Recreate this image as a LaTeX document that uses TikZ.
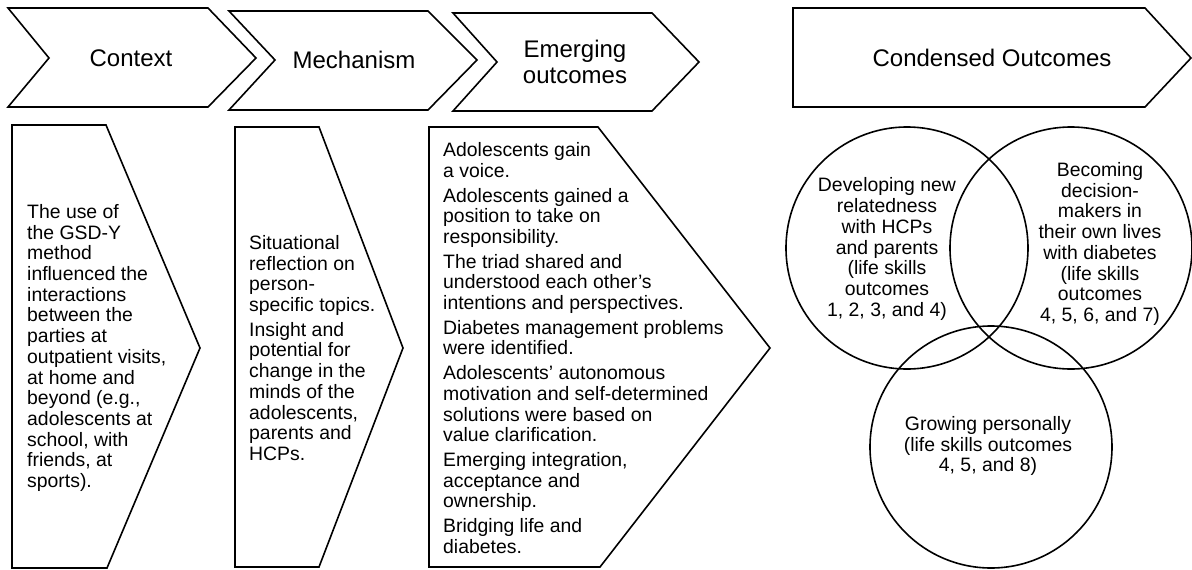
\documentclass[tikz,border=0pt]{standalone}
\usepackage{fontspec}
\setmainfont{Liberation Sans}
\begin{document}
\begin{tikzpicture}[x=1pt,y=-1pt,
  outline/.style={line width=1.6pt},
  head/.style={font=\fontsize{24}{26}\selectfont, align=center, inner sep=0},
  body/.style={font=\fontsize{19.4}{20.7}\selectfont, align=left, anchor=west, inner sep=0},
  venn/.style={font=\fontsize{19.4}{20.7}\selectfont, align=center, inner sep=0}]
\useasboundingbox (0,0) rectangle (1192,570);
% header chevrons
\draw [outline] (8,8) -- (208,8) -- (256,58) -- (208,107) -- (8,107) -- (49,58) -- cycle;
\draw [outline] (229,11) -- (428,11) -- (477,60) -- (428,110) -- (229,110) -- (275,60) -- cycle;
\draw [outline] (453,13) -- (652,13) -- (699,62) -- (652,111) -- (453,111) -- (497,62) -- cycle;
\draw [outline] (793,8) -- (1145,8) -- (1191,58) -- (1145,107) -- (793,107) -- cycle;
\node [head] (context) at (131,58) {Context};
\node [head] (mechanism) at (354,60) {Mechanism};
\node [head] (emerging) at (575,62) {Emerging\\outcomes};
\node [head] (condensed) at (992,58) {Condensed Outcomes};
% body boxes
\draw [outline] (12,125) -- (106,125) -- (200,348) -- (107,568) -- (12,568) -- cycle;
\draw [outline] (235,127) -- (319,127) -- (403,348) -- (319,567) -- (235,567) -- cycle;
\draw [outline] (429,127) -- (598,127) -- (770,348) -- (600,567) -- (429,567) -- cycle;
\node [body] (ctxtext) at (27,348) {The use of\\the GSD-Y\\method\\influenced the\\interactions\\between the\\parties at\\outpatient visits,\\at home and\\beyond (e.g.,\\adolescents at\\school, with\\friends, at\\sports).};
\node [body] (mechtext) at (249,348) {Situational\\reflection on\\person-\\specific topics.\\[4pt]Insight and\\potential for\\change in the\\minds of the\\adolescents,\\parents and\\HCPs.};
\node [body] (emtext) at (443,348) {Adolescents gain\\a voice.\\[4pt]Adolescents gained a\\position to take on\\responsibility.\\[4pt]The triad shared and\\understood each other’s\\intentions and perspectives.\\[4pt]Diabetes management problems\\were identified.\\[4pt]Adolescents’ autonomous\\motivation and self-determined\\solutions were based on\\value clarification.\\[4pt]Emerging integration,\\acceptance and\\ownership.\\[4pt]Bridging life and\\diabetes.};
% condensed outcomes
\draw [outline] (907,248) circle (121pt);
\draw [outline] (1071,248) circle (121pt);
\draw [outline] (991,447) circle (121pt);
\node [venn] (relate) at (887,249) {Developing new\\relatedness\\with HCPs\\and parents\\(life skills\\outcomes\\1, 2, 3, and 4)};
\node [venn] (decide) at (1100,244) {Becoming\\decision-\\makers in\\their own lives\\with diabetes\\(life skills\\outcomes\\4, 5, 6, and 7)};
\node [venn] (grow) at (988,446) {Growing personally\\(life skills outcomes\\4, 5, and 8)};
\end{tikzpicture}
\end{document}
